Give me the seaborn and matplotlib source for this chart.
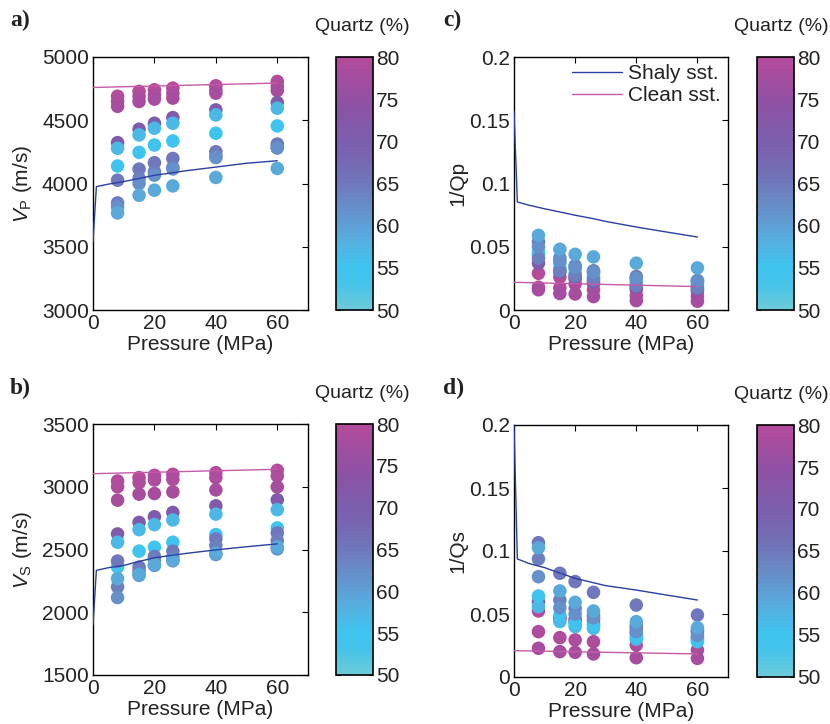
import numpy as np
import pandas as pd
import matplotlib
matplotlib.use("Agg")
import matplotlib.pyplot as plt
import seaborn as sns
from matplotlib.colors import LinearSegmentedColormap, Normalize
from matplotlib.cm import ScalarMappable

# ---------------- data ----------------
pressures = [8, 15, 20, 26, 40, 60]
quartz = [80, 79, 78, 71, 57, 55, 65, 64, 62, 59]   # one value per sample

vp = [
    [4690, 4728, 4741, 4754, 4772, 4807],
    [4650, 4688, 4701, 4714, 4741, 4767],
    [4610, 4648, 4667, 4675, 4714, 4735],
    [4323, 4429, 4476, 4521, 4582, 4640],
    [4278, 4384, 4437, 4476, 4542, 4595],
    [4138, 4246, 4304, 4336, 4397, 4455],
    [4026, 4114, 4164, 4198, 4251, 4312],
    [3847, 4040, 4093, 4127, 4217, 4286],
    [3815, 4000, 4066, 4115, 4205, 4280],
    [3767, 3907, 3947, 3981, 4048, 4119],
]
vs = [
    [3046, 3073, 3091, 3099, 3112, 3131],
    [3000, 3033, 3054, 3059, 3073, 3086],
    [2893, 2941, 2946, 2959, 2975, 2999],
    [2624, 2716, 2761, 2795, 2848, 2896],
    [2558, 2658, 2698, 2735, 2782, 2817],
    [2360, 2487, 2518, 2558, 2619, 2672],
    [2408, 2360, 2444, 2487, 2584, 2632],
    [2202, 2329, 2418, 2440, 2532, 2571],
    [2117, 2294, 2373, 2410, 2460, 2505],
    [2268, 2300, 2380, 2413, 2470, 2520],
]
qp = [
    [0.029, 0.026, 0.0246, 0.0206, 0.0159, 0.0148],
    [0.018, 0.0175, 0.0206, 0.0159, 0.0114, 0.0108],
    [0.016, 0.013, 0.0127, 0.0106, 0.0074, 0.0069],
    [0.037, 0.030, 0.026, 0.022, 0.018, 0.0165],
    [0.044, 0.033, 0.029, 0.026, 0.022, 0.020],
    [0.046, 0.037, 0.0325, 0.029, 0.0246, 0.0228],
    [0.054, 0.041, 0.035, 0.031, 0.0265, 0.0233],
    [0.041, 0.031, 0.027, 0.024, 0.0193, 0.0175],
    [0.050, 0.039, 0.034, 0.030, 0.025, 0.023],
    [0.059, 0.048, 0.044, 0.042, 0.037, 0.0333],
]
qs = [
    [0.0524, 0.046, 0.046, 0.0452, 0.0386, 0.036],
    [0.036, 0.0312, 0.0294, 0.028, 0.0254, 0.0214],
    [0.0228, 0.0201, 0.0196, 0.0183, 0.0153, 0.0148],
    [0.0598, 0.047, 0.044, 0.042, 0.035, 0.031],
    [0.0558, 0.044, 0.040, 0.0386, 0.030, 0.028],
    [0.0643, 0.0492, 0.0426, 0.0407, 0.032, 0.0294],
    [0.1066, 0.0823, 0.0757, 0.0672, 0.0571, 0.0492],
    [0.0937, 0.0611, 0.0545, 0.0492, 0.041, 0.037],
    [0.0796, 0.055, 0.050, 0.047, 0.036, 0.033],
    [0.1026, 0.0683, 0.0593, 0.0524, 0.0439, 0.0392],
]

# model curves
shaly_p = [0, 1.1, 5, 10, 15, 20, 26, 30, 40, 50, 60]
shaly_vp = [3540, 3975, 3995, 4015, 4040, 4065, 4085, 4100, 4130, 4160, 4180]
shaly_vs = [1900, 2334, 2355, 2373, 2405, 2434, 2455, 2468, 2497, 2522, 2545]
shaly_qp = [0.157, 0.0854, 0.0828, 0.080, 0.0775, 0.0749, 0.0722, 0.070, 0.0656, 0.0616, 0.0577]
shaly_qs = [0.200, 0.0937, 0.090, 0.0868, 0.0825, 0.0783, 0.0748, 0.0725, 0.069, 0.065, 0.0611]
clean_p = [0, 60]
clean_vp = [4759, 4794]
clean_vs = [3104, 3139]
clean_qp = [0.0219, 0.0185]
clean_qs = [0.0209, 0.0183]

rows = []
for i, q in enumerate(quartz):
    for j, p in enumerate(pressures):
        rows.append(dict(sample=i, Pressure=p, Quartz=q, Vp=vp[i][j], Vs=vs[i][j],
                         Qp=qp[i][j], Qs=qs[i][j]))
df = pd.DataFrame(rows)

# ---------------- style ----------------
sns.set_style("white")
plt.rcParams['font.family'] = ['Liberation Sans', 'DejaVu Sans']
plt.rcParams['mathtext.fontset'] = 'custom'
plt.rcParams['mathtext.rm'] = 'Liberation Sans'
plt.rcParams['mathtext.it'] = 'Liberation Sans:italic'
plt.rcParams['axes.edgecolor'] = 'black'
plt.rcParams['axes.linewidth'] = 1.0
FS = 15
TXT = "#222222"

cmap = LinearSegmentedColormap.from_list("quartz", [
    (0.0, "#6ccbd8"), (0.10, "#45c3ea"), (0.17, "#3ec4f0"), (0.27, "#55b0e0"),
    (0.34, "#5f9ed4"), (0.44, "#6a86c4"), (0.50, "#6f78bc"), (0.60, "#7866b2"),
    (0.67, "#7c5eae"), (0.83, "#9150a4"), (1.0, "#b54b9b")])
norm = Normalize(50, 80)

SHALY = "#2b3fa3"
CLEAN = "#c45aa8"

fig = plt.figure(figsize=(8.3, 7.24), dpi=100)
W, H = 830, 724

def fig_rect(x0, x1, y0, y1):
    return [x0 / W, 1 - y1 / H, (x1 - x0) / W, (y1 - y0) / H]

panels = [
    dict(col="Vp", ax=(93, 308, 57, 310), cb=(336, 373, 57, 310), ylim=(3000, 5000),
         yt=[3000, 3500, 4000, 4500, 5000], ylab=r'$\mathit{V}_{\mathrm{P}}$ (m/s)',
         sh=shaly_vp, cl=clean_vp, lab="a)", lx=10, ly=20, ylx=22, qx=0.70),
    dict(col="Vs", ax=(93, 308, 424, 675), cb=(336, 373, 424, 675), ylim=(1500, 3500),
         yt=[1500, 2000, 2500, 3000, 3500], ylab=r'$\mathit{V}_{\mathrm{S}}$ (m/s)',
         sh=shaly_vs, cl=clean_vs, lab="b)", lx=10, ly=388, ylx=22, qx=0.70),
    dict(col="Qp", ax=(514, 728, 57, 310), cb=(757, 794, 57, 310), ylim=(0, 0.2),
         yt=[0, 0.05, 0.1, 0.15, 0.2], ylab="1/Qp",
         sh=shaly_qp, cl=clean_qp, lab="c)", lx=443, ly=20, ylx=458, qx=0.66),
    dict(col="Qs", ax=(514, 728, 425, 677), cb=(757, 794, 425, 677), ylim=(0, 0.2),
         yt=[0, 0.05, 0.1, 0.15, 0.2], ylab="1/Qs",
         sh=shaly_qs, cl=clean_qs, lab="d)", lx=443, ly=388, ylx=458, qx=0.66),
]

for k, P in enumerate(panels):
    ax = fig.add_axes(fig_rect(*P["ax"]))
    sns.scatterplot(data=df, x="Pressure", y=P["col"], hue="Quartz", palette=cmap,
                    hue_norm=norm, s=95, linewidth=0, alpha=1, legend=False, ax=ax, zorder=3)
    ax.plot(shaly_p, P["sh"], color=SHALY, lw=1.0, zorder=4, label="Shaly sst.")
    ax.plot(clean_p, P["cl"], color=CLEAN, lw=1.0, zorder=4, label="Clean sst.")
    ax.set_xlim(0, 70)
    ax.set_ylim(*P["ylim"])
    ax.set_xticks([0, 20, 40, 60])
    ax.set_yticks(P["yt"])
    ax.set_yticklabels([f"{v:g}" for v in P["yt"]])
    ax.tick_params(direction="in", top=True, right=True, labelsize=FS, length=4,
                   width=0.8, color="black", labelcolor=TXT, pad=3)
    for sp in ax.spines.values():
        sp.set_visible(True)
        sp.set_color("black")
        sp.set_linewidth(1.0)
    ax.set_xlabel("Pressure (MPa)", fontsize=FS, labelpad=1, color=TXT)
    ax.set_ylabel("")
    fig.text(P["ylx"] / W, 1 - ((P["ax"][2] + P["ax"][3]) / 2) / H, P["ylab"],
             rotation=90, ha="center", va="center", fontsize=FS, color=TXT)
    if k == 2:
        ax.legend(loc="upper right", frameon=False, fontsize=FS, handlelength=2.4,
                  borderaxespad=0.25, labelspacing=0.15, handletextpad=0.3,
                  borderpad=0.1, labelcolor=TXT)
    # colorbar
    cax = fig.add_axes(fig_rect(*P["cb"]))
    sm = ScalarMappable(norm=norm, cmap=cmap)
    cb = fig.colorbar(sm, cax=cax, ticks=[50, 55, 60, 65, 70, 75, 80])
    cb.outline.set_linewidth(1.2)
    cb.outline.set_edgecolor("black")
    cax.tick_params(direction="in", left=True, right=True, labelsize=FS, length=3,
                    width=0.8, pad=2, labelcolor=TXT)
    cax.text(P["qx"], 1.12, "Quartz (%)", transform=cax.transAxes, ha="center",
             va="center", fontsize=14, color=TXT)
    fig.text(P["lx"] / W, 1 - P["ly"] / H, P["lab"], ha="left", va="center",
             fontsize=17, fontweight="bold", family="Liberation Serif", color=TXT)

fig.savefig("out.png", dpi=100)
